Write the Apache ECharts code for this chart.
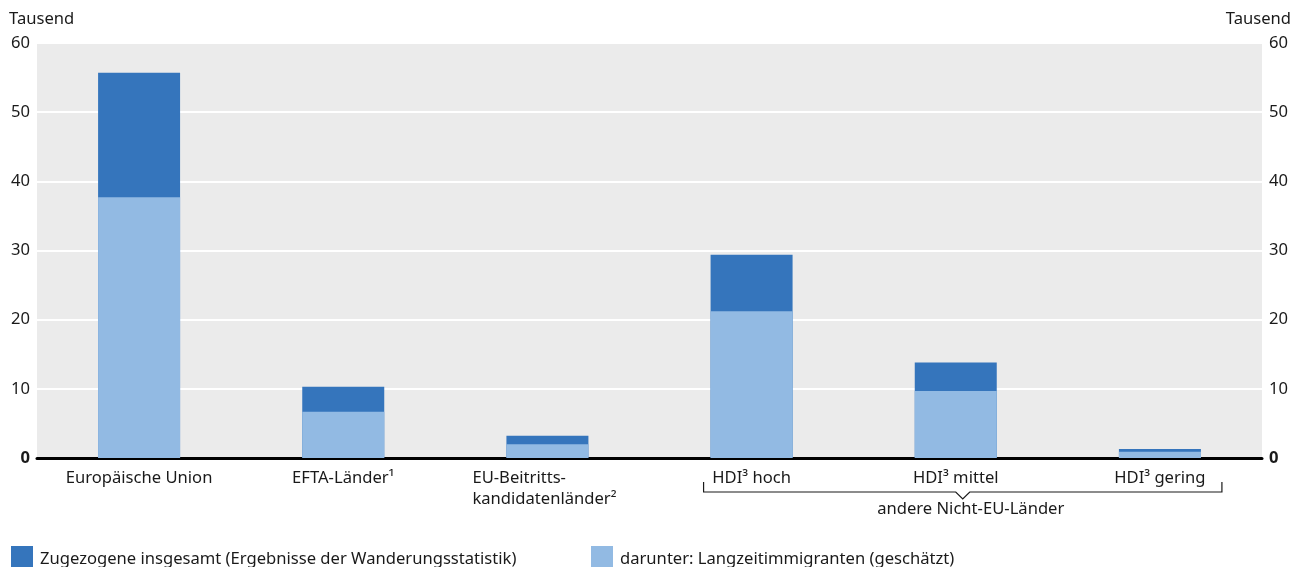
<!DOCTYPE html>
<html>
<head>
<meta charset="utf-8">
<script src="https://cdn.jsdelivr.net/npm/echarts@6/dist/echarts.min.js"></script>
<style>
  html, body { margin: 0; padding: 0; background: #ffffff; }
  #chart { width: 1306px; height: 567px; }
</style>
</head>
<body>
<div id="chart"></div>
<script>
// Zuzüge nach Herkunftsgruppe, in Tausend
const categories = [
  'Europäische Union',
  'EFTA-Länder¹',
  'EU-Beitritts-\nkandidatenländer²',
  'HDI³ hoch',
  'HDI³ mittel',
  'HDI³ gering'
];
const zugezogeneInsgesamt = [55.7, 10.3, 3.2, 29.4, 13.8, 1.3];
const langzeitimmigranten = [37.7, 6.7, 2.0, 21.2, 9.7, 0.9];
const yTicks = [0, 10, 20, 30, 40, 50, 60];

const seriesNames = [
  'Zugezogene insgesamt (Ergebnisse der Wanderungsstatistik)',
  'darunter: Langzeitimmigranten (geschätzt)'
];
const groupLabel = 'andere Nicht-EU-Länder';
const unitLabel = 'Tausend';

const FONT = '"Noto Sans", sans-serif';
const FS = 16.6;
const DARK = '#3575bc';
const LIGHT = '#92bae3';
const TEXT = '#1a1a1a';

const chart = echarts.init(document.getElementById('chart'), null, { renderer: 'canvas' });

function tickLabel(v) {
  return v === 0 ? '{b|0}' : '{n|' + v + '}';
}
const tickRich = {
  n: { fontFamily: FONT, fontSize: FS, color: TEXT },
  b: { fontFamily: FONT, fontSize: FS, color: TEXT, fontWeight: 'bold' }
};

function yAxis(position) {
  return {
    type: 'value',
    position: position,
    min: yTicks[0],
    max: yTicks[yTicks.length - 1],
    interval: yTicks[1] - yTicks[0],
    axisLine: { show: false },
    axisTick: { show: false },
    splitLine: { show: position === 'left', lineStyle: { color: '#ffffff', width: 2 } },
    axisLabel: {
      margin: 7,
      formatter: tickLabel,
      rich: tickRich
    }
  };
}

function legendAt(name, left) {
  return {
    data: [name],
    left: left, top: 541,
    itemWidth: 22, itemHeight: 26, itemGap: 0,
    icon: 'rect',
    textStyle: { fontFamily: FONT, fontSize: FS, color: TEXT, padding: [0, 0, 0, 2] }
  };
}

const option = {
  animation: false,
  grid: {
    left: 37, right: 44, top: 43, bottom: 109,
    show: true, backgroundColor: '#ebebeb', borderWidth: 0
  },
  legend: [legendAt(seriesNames[0], 6), legendAt(seriesNames[1], 586)],
  xAxis: {
    type: 'category',
    data: categories,
    axisLine: { show: true, onZero: false, lineStyle: { color: '#000000', width: 3 } },
    axisTick: { show: false },
    axisLabel: {
      margin: 10,
      interval: 0,
      color: TEXT,
      fontFamily: FONT,
      fontSize: FS,
      lineHeight: 21,
      formatter: function (value) {
        if (value.indexOf('\n') >= 0) {
          return value.split('\n').map(function (l) { return '{l|' + l + '}'; }).join('\n');
        }
        return value;
      },
      rich: {
        l: { fontFamily: FONT, fontSize: FS, color: TEXT, width: 150, align: 'left', lineHeight: 21 }
      }
    }
  },
  yAxis: [yAxis('left'), yAxis('right')],
  series: [
    {
      name: seriesNames[0],
      type: 'bar',
      data: zugezogeneInsgesamt,
      barWidth: 82,
      itemStyle: { color: DARK },
      z: 2
    },
    {
      name: seriesNames[1],
      type: 'bar',
      data: langzeitimmigranten,
      barWidth: 82,
      barGap: '-100%',
      itemStyle: { color: LIGHT },
      z: 3
    }
  ]
};

chart.setOption(option);

// Klammer unter den Nicht-EU-Gruppen und Achsentitel
function drawAnnotations() {
  const c3 = chart.convertToPixel({ xAxisIndex: 0 }, categories[3]);
  const c5 = chart.convertToPixel({ xAxisIndex: 0 }, categories[5]);
  const x0 = c3 - 48;
  const x1 = c5 + 62;
  const xm = (x0 + x1) / 2;
  const yb = chart.convertToPixel({ yAxisIndex: 0 }, 0) + 34;
  chart.setOption({
    graphic: [
      {
        type: 'polyline',
        silent: true,
        shape: {
          points: [
            [x0, yb - 10], [x0, yb], [xm - 7, yb], [xm, yb + 7],
            [xm + 7, yb], [x1, yb], [x1, yb - 10]
          ]
        },
        style: { stroke: '#1a1a1a', lineWidth: 1.2, fill: null }
      },
      {
        type: 'text',
        x: xm + 8, y: yb + 9,
        style: {
          text: groupLabel, fontFamily: FONT, fontSize: FS, fill: TEXT,
          align: 'center', verticalAlign: 'top'
        }
      },
      {
        type: 'text',
        x: 9, y: 11,
        style: { text: unitLabel, fontFamily: FONT, fontSize: FS, fill: TEXT, align: 'left', verticalAlign: 'top' }
      },
      {
        type: 'text',
        x: 1291, y: 11,
        style: { text: unitLabel, fontFamily: FONT, fontSize: FS, fill: TEXT, align: 'right', verticalAlign: 'top' }
      }
    ]
  });
}
drawAnnotations();
</script>
</body>
</html>
